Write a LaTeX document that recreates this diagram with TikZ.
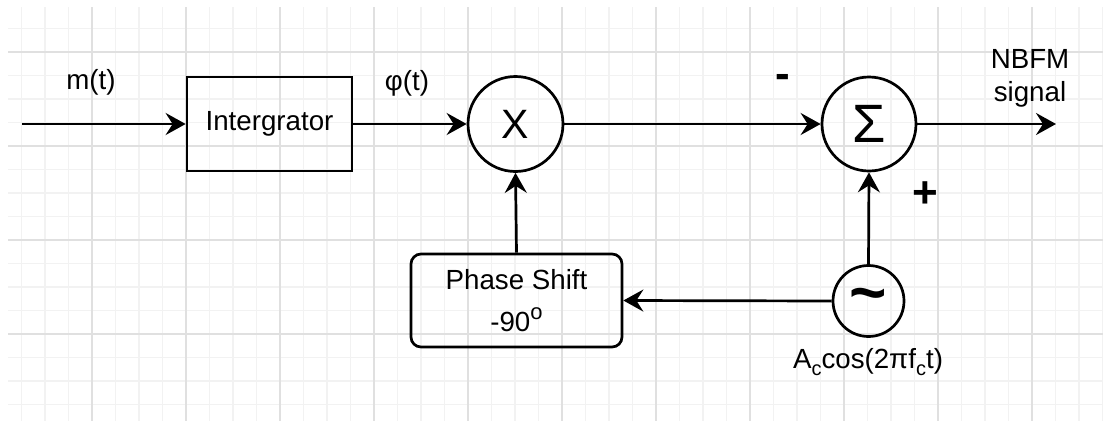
\documentclass[tikz,border=0pt]{standalone}
\usepackage{fontspec}
\setmainfont{Liberation Sans}
\usetikzlibrary{arrows.meta}
\definecolor{gridminor}{RGB}{242,242,242}
\definecolor{gridmajor}{RGB}{224,224,224}
\newcommand{\mysup}[1]{\raisebox{0.42em}{\fontsize{22}{22}\selectfont #1}}
\newcommand{\mysub}[1]{\raisebox{-0.28em}{\fontsize{20}{20}\selectfont #1}}
\begin{document}
\begin{tikzpicture}[x=1pt,y=-1pt,
  wire/.style={line width=2.7pt, -{Stealth[length=20pt,width=22pt,inset=7pt]}},
  blk/.style={draw, line width=2.7pt, inner sep=0pt, font=\fontsize{27.7}{33}\selectfont, align=center},
  circ/.style={blk, circle},
  lbl/.style={font=\fontsize{27.7}{33}\selectfont, inner sep=0pt, align=center},
  sgn/.style={font=\bfseries\fontsize{44}{44}\selectfont, inner sep=0pt}]
\useasboundingbox (0,0) rectangle (1103,421);
\fill[white] (0,0) rectangle (1103,421);
% grid
\foreach \xx in {21.5,45,...,1103} \draw[gridminor, line width=1.4pt] (\xx,7) -- (\xx,421);
\foreach \yy in {28.5,52,...,421} \draw[gridminor, line width=1.4pt] (8,\yy) -- (1103,\yy);
\foreach \xx in {92,186,...,1040} \draw[gridmajor, line width=1.4pt] (\xx,7) -- (\xx,421);
\foreach \yy in {52,146,...,340} \draw[gridmajor, line width=1.4pt] (8,\yy) -- (1103,\yy);

% blocks
\node[blk, minimum width=165pt, minimum height=94pt] (integ) at (269.5,124) {Intergrator};
\node[circ, minimum size=95pt, font=\fontsize{41}{41}\selectfont] (mult) at (515.5,124) {X};
\node[circ, minimum size=94pt, font=\fontsize{54}{54}\selectfont] (sum) at (869,124) {Σ};
\node[blk, rounded corners=10pt, minimum width=211pt, minimum height=93pt] (phase) at (516.5,300.5) {Phase Shift\\[9pt]-90\mysup{o}};
\node[circ, minimum size=71pt] (osc) at (868.5,301) {};
\node[font=\bfseries\fontsize{64}{64}\selectfont, inner sep=0pt] (tilde) at (osc.center) {\textasciitilde};

\coordinate (in) at (22,124);
\coordinate (out) at (1056,124);

% connectors
\draw[wire] (in) -- (integ.west);
\draw[wire] (integ.east) -- (mult.west);
\draw[wire] (mult.east) -- (sum.west);
\draw[wire] (sum.east) -- (out);
\draw[wire] (phase.north) -- (mult.south);
\draw[wire] (osc.north) -- (sum.south);
\draw[wire] (osc.west) -- (phase.east);

% labels
\node[lbl] (lm) at (91,82) {m(t)};
\node[lbl] (lphi) at (407,83) {φ(t)};
\node[lbl] (lout) at (1030,78.5) {NBFM\\signal};
\node[sgn] (lminus) at (783,81) {-};
\node[sgn] (lplus) at (925,195) {+};
\node[lbl] (losc) at (868,362) {A\mysub{c}cos(2πf\mysub{c}t)};
\end{tikzpicture}
\end{document}
